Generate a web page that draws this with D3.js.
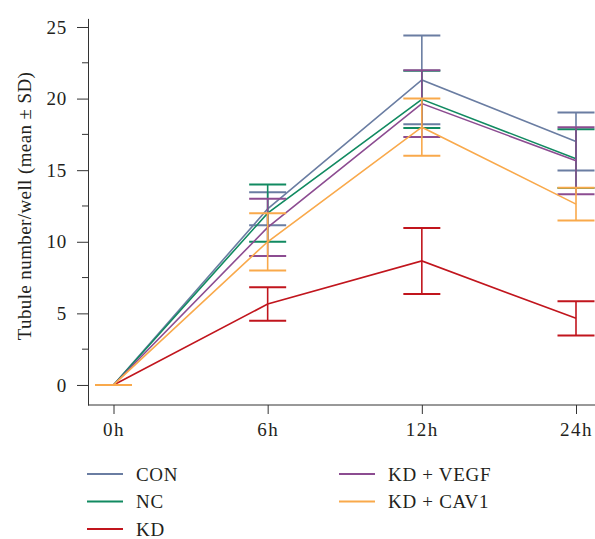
<!DOCTYPE html>
<html>
<head>
<meta charset="utf-8">
<script src="https://cdn.jsdelivr.net/npm/d3@7"></script>
<style>
  body { margin: 0; background: #fff; }
  text { font-family: "Liberation Serif", "DejaVu Serif", serif; fill: #231f20; }
</style>
</head>
<body>
<script>
// data
const times = ["0h", "6h", "12h", "24h"];
const groups = ["CON", "NC", "KD", "KD + VEGF", "KD + CAV1"];
const colors = ["#6a7da2", "#118a61", "#c1151d", "#8c4c91", "#f9a94b"];
const means = [
  [0, 12.3, 21.3, 17.0],   // CON
  [0, 12.0, 19.95, 15.8],  // NC
  [0, 5.65, 8.66, 4.65],   // KD
  [0, 11.0, 19.65, 15.66], // KD + VEGF
  [0, 10.0, 18.0, 12.63]   // KD + CAV1
];
const sds = [
  [0, 1.15, 3.1, 2.03],
  [0, 2.0, 2.0, 2.05],
  [0, 1.17, 2.3, 1.19],
  [0, 2.0, 2.33, 2.34],
  [0, 2.0, 2.0, 1.15]
];
const yTicks = [0, 5, 10, 15, 20, 25];
const yMinor = [2.5, 7.5, 12.5, 17.5, 22.5];

const svg = d3.select("body").append("svg")
    .attr("width", 595)
    .attr("height", 539);

let x = d3.scalePoint()
    .domain(times)
    .range([113.5, 576]);

let y = d3.scaleLinear()
    .domain([-1.4, 25.6])
    .range([405, 18.4]);

const axisX = 88, axisY = 405;
const fs = 19, ls = 0.7;

// y axis
let gy = svg.append("g")
    .attr("transform", "translate(" + axisX + ",0)")
    .call(d3.axisLeft(y).tickValues(yTicks).tickSize(11).tickSizeOuter(0).tickPadding(10));
gy.select(".domain").attr("stroke", "#333");
gy.selectAll(".tick line").attr("stroke", "#333");
gy.selectAll(".tick text")
    .style("font-family", "Liberation Serif")
    .style("letter-spacing", ls + "px")
    .attr("font-size", fs)
    .attr("fill", "#231f20");

gy.selectAll(".minor")
    .data(yMinor)
    .enter().append("line")
    .attr("class", "minor")
    .attr("x1", -6).attr("x2", 0)
    .attr("y1", d => y(d)).attr("y2", d => y(d))
    .attr("stroke", "#333");

// x axis
svg.append("line")
    .attr("x1", axisX).attr("x2", 600)
    .attr("y1", axisY).attr("y2", axisY)
    .attr("stroke", "#333");

let gx = svg.append("g")
    .attr("transform", "translate(0," + axisY + ")")
    .call(d3.axisBottom(x).tickSize(9).tickSizeOuter(0).tickPadding(9));
gx.select(".domain").remove();
gx.selectAll(".tick line").attr("stroke", "#333");
gx.selectAll(".tick text")
    .style("font-family", "Liberation Serif")
    .style("letter-spacing", "1.5px")
    .attr("font-size", fs)
    .attr("fill", "#231f20");

// y title
svg.append("text")
    .attr("transform", "translate(31,206) rotate(-90)")
    .attr("text-anchor", "middle")
    .attr("font-size", fs)
    .style("letter-spacing", "0.4px")
    .text("Tubule number/well (mean ± SD)");

let line = d3.line()
    .x((d, i) => x(times[i]))
    .y(d => y(d));

const cap = 18.5;

groups.forEach((name, gi) => {
    let g = svg.append("g")
        .attr("stroke", colors[gi])
        .attr("fill", "none")
        .attr("stroke-width", 1.6);

    g.append("path")
        .attr("d", line(means[gi]));

    means[gi].forEach((m, i) => {
        let cx = x(times[i]);
        let hi = y(m + sds[gi][i]), lo = y(m - sds[gi][i]);
        g.append("line")
            .attr("x1", cx).attr("x2", cx)
            .attr("y1", hi).attr("y2", lo);
        g.append("line")
            .attr("x1", cx - cap).attr("x2", cx + cap)
            .attr("y1", hi).attr("y2", hi)
            .attr("stroke-width", 2);
        g.append("line")
            .attr("x1", cx - cap).attr("x2", cx + cap)
            .attr("y1", lo).attr("y2", lo)
            .attr("stroke-width", 2);
    });
});

// legend
const legendPos = [[87, 474], [87, 501.5], [87, 529], [339, 474], [339, 501.5]];
let legend = svg.append("g");
groups.forEach((name, gi) => {
    let p = legendPos[gi];
    legend.append("line")
        .attr("x1", p[0]).attr("x2", p[0] + 36)
        .attr("y1", p[1]).attr("y2", p[1])
        .attr("stroke", colors[gi])
        .attr("stroke-width", 1.8);
    legend.append("text")
        .attr("x", p[0] + 49)
        .attr("y", p[1] + 6.5)
        .attr("font-size", fs)
        .style("letter-spacing", ls + "px")
        .text(name);
});
</script>
</body>
</html>
